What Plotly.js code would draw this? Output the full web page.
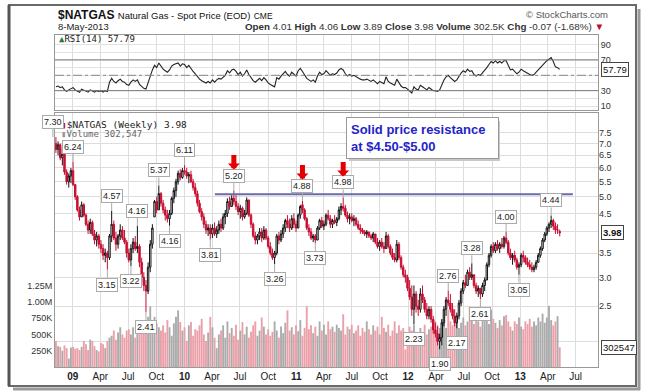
<!DOCTYPE html>
<html><head><meta charset="utf-8">
<script src="https://cdn.plot.ly/plotly-3.0.1.min.js"></script>
<style>html,body{margin:0;padding:0;background:#fff}#chart{width:645px;height:392px}</style>
</head><body><div id="chart"></div>
<script>
// ---------------- DATA (weekly, first week 2008-11-07) ----------------
const startDate = '2008-11-07';
const openP = [
7.00,6.75,6.95,6.40,6.55,5.85,5.50,5.70,5.90,5.40,
5.00,4.60,4.40,4.75,4.45,4.20,4.05,4.25,3.95,3.80,
3.90,3.70,3.60,3.45,3.50,3.40,3.90,4.20,3.85,3.70,
3.90,4.05,3.85,3.75,3.50,3.35,3.60,3.75,3.60,3.65,
3.30,3.00,2.85,2.75,3.20,3.70,4.40,4.85,4.60,5.10,
4.80,4.60,4.45,4.35,4.50,4.95,5.20,5.50,5.80,5.65,
5.90,5.85,5.70,5.75,5.50,5.30,5.10,4.80,4.55,4.40,
4.20,4.05,4.10,3.95,4.10,3.95,4.05,4.20,4.10,4.40,
4.50,4.85,4.70,4.95,4.85,4.70,4.55,4.65,4.40,4.50,
4.90,4.45,4.20,3.90,3.80,3.90,4.00,3.85,4.05,3.85,
3.65,3.50,3.40,3.50,3.90,3.80,3.95,4.10,4.30,4.20,
4.10,4.35,4.20,4.10,4.45,4.75,4.60,4.35,4.10,4.00,
3.85,3.90,3.80,4.10,4.30,4.15,4.20,4.45,4.35,4.20,
4.30,4.25,4.35,4.60,4.70,4.65,4.45,4.35,4.40,4.30,
4.35,4.20,4.10,4.05,4.00,3.95,4.00,3.90,3.85,3.95,
3.75,3.65,3.75,3.65,3.60,3.90,3.65,3.50,3.40,3.35,
3.70,3.40,3.20,3.05,3.00,2.80,2.65,2.45,2.70,2.50,
2.45,2.70,2.60,2.45,2.35,2.45,2.30,2.15,2.10,2.00,
2.05,2.25,2.45,2.60,2.55,2.45,2.35,2.25,2.35,2.55,
2.75,2.90,2.85,3.10,3.00,3.05,2.85,2.75,2.80,2.70,
2.85,2.95,3.25,3.45,3.65,3.55,3.70,3.60,3.70,3.65,
3.85,3.75,3.50,3.40,3.45,3.35,3.20,3.25,3.45,3.40,
3.30,3.25,3.20,3.15,3.20,3.30,3.45,3.60,3.80,3.95,
4.10,4.20,4.30,4.15,4.05,4.01];
const highP = [
7.30,7.10,7.00,6.80,6.60,5.95,5.80,6.00,6.24,5.40,
5.05,4.70,4.85,4.80,4.50,4.30,4.35,4.30,4.05,4.00,
3.95,3.80,3.70,3.60,3.55,3.95,4.57,4.30,4.00,3.95,
4.20,4.15,4.05,3.80,3.60,3.70,3.85,3.90,4.16,3.70,
3.40,3.10,2.95,3.30,3.80,4.20,4.90,5.00,5.37,5.15,
4.90,4.70,4.60,4.60,5.00,5.30,5.60,5.90,5.95,6.00,
6.11,6.00,5.85,5.90,5.60,5.45,5.20,4.90,4.65,4.50,
4.30,4.20,4.20,4.20,4.25,4.15,4.30,4.35,4.50,4.60,
4.95,5.00,5.05,5.20,5.05,4.80,4.75,4.70,4.60,4.98,
4.90,4.50,4.25,4.00,3.95,4.10,4.10,4.15,4.10,3.90,
3.75,3.60,3.55,3.95,4.00,4.05,4.20,4.35,4.45,4.35,
4.45,4.50,4.30,4.50,4.75,4.88,4.65,4.40,4.20,4.10,
3.95,3.95,4.15,4.35,4.40,4.30,4.50,4.60,4.45,4.35,
4.45,4.40,4.70,4.80,4.98,4.75,4.55,4.50,4.50,4.45,
4.40,4.30,4.20,4.10,4.05,4.05,4.00,3.95,4.00,3.95,
3.85,3.80,3.85,3.75,4.00,3.95,3.70,3.60,3.50,3.80,
3.75,3.45,3.25,3.15,3.05,2.95,2.85,2.85,2.75,2.60,
2.80,2.85,2.65,2.55,2.50,2.50,2.35,2.25,2.20,2.10,
2.30,2.50,2.65,2.76,2.70,2.55,2.45,2.40,2.60,2.80,
2.95,3.05,3.15,3.20,3.28,3.05,2.90,2.85,2.80,2.90,
3.00,3.30,3.50,3.70,3.75,3.75,3.80,3.75,3.85,3.90,
4.00,3.80,3.60,3.50,3.55,3.40,3.30,3.50,3.55,3.45,
3.40,3.35,3.30,3.25,3.35,3.50,3.65,3.85,4.00,4.15,
4.25,4.44,4.35,4.25,4.20,4.06];
const lowP = [
6.60,6.50,6.30,6.10,5.75,5.40,5.30,5.45,5.35,4.90,
4.55,4.30,4.40,4.40,4.15,3.95,3.95,3.90,3.70,3.65,
3.60,3.50,3.35,3.30,3.15,3.35,3.75,3.80,3.55,3.60,
3.80,3.80,3.70,3.40,3.30,3.22,3.50,3.55,3.50,3.20,
2.90,2.75,2.41,2.70,3.10,3.60,4.40,4.50,4.60,4.70,
4.50,4.30,4.25,4.16,4.45,4.80,5.00,5.40,5.55,5.60,
5.75,5.60,5.45,5.45,5.20,5.00,4.70,4.50,4.30,4.10,
3.95,3.90,3.81,3.85,3.90,3.85,3.95,4.00,4.05,4.20,
4.40,4.60,4.70,4.75,4.60,4.45,4.35,4.30,4.35,4.45,
4.40,4.10,3.85,3.70,3.70,3.80,3.75,3.80,3.80,3.60,
3.45,3.35,3.26,3.45,3.70,3.75,3.85,4.00,4.10,4.00,
4.05,4.10,4.00,4.10,4.35,4.50,4.30,4.05,3.90,3.80,
3.75,3.73,3.80,4.05,4.10,4.05,4.15,4.30,4.10,4.10,
4.20,4.15,4.30,4.45,4.55,4.40,4.25,4.20,4.25,4.15,
4.15,4.05,3.95,3.95,3.90,3.85,3.85,3.80,3.75,3.70,
3.60,3.55,3.60,3.50,3.60,3.60,3.45,3.35,3.30,3.30,
3.35,3.15,3.00,2.90,2.75,2.60,2.35,2.23,2.40,2.35,
2.40,2.55,2.40,2.30,2.30,2.25,2.10,2.05,1.95,1.90,
1.95,2.20,2.35,2.50,2.40,2.30,2.20,2.17,2.30,2.50,
2.70,2.80,2.85,2.95,2.95,2.80,2.70,2.65,2.61,2.65,
2.75,2.95,3.20,3.40,3.50,3.50,3.55,3.50,3.60,3.60,
3.70,3.45,3.35,3.25,3.30,3.15,3.05,3.20,3.30,3.25,
3.20,3.15,3.10,3.10,3.15,3.30,3.40,3.55,3.75,3.90,
4.00,4.10,4.05,3.95,3.95,3.89];
const closeP = [
6.75,6.95,6.40,6.55,5.85,5.50,5.70,5.90,5.40,5.00,
4.60,4.40,4.75,4.45,4.20,4.05,4.25,3.95,3.80,3.90,
3.70,3.60,3.45,3.50,3.40,3.90,4.20,3.85,3.70,3.90,
4.05,3.85,3.75,3.50,3.35,3.60,3.75,3.60,3.65,3.30,
3.00,2.85,2.75,3.20,3.70,4.10,4.85,4.60,5.10,4.80,
4.60,4.45,4.35,4.50,4.95,5.20,5.50,5.80,5.65,5.90,
5.85,5.70,5.75,5.50,5.30,5.10,4.80,4.55,4.40,4.20,
4.05,4.10,3.95,4.10,3.95,4.05,4.20,4.10,4.40,4.50,
4.85,4.70,4.95,4.85,4.70,4.55,4.65,4.40,4.50,4.90,
4.45,4.20,3.90,3.80,3.90,4.00,3.85,4.05,3.85,3.65,
3.50,3.40,3.50,3.90,3.80,3.95,4.10,4.30,4.20,4.10,
4.35,4.20,4.10,4.45,4.70,4.60,4.35,4.10,4.00,3.85,
3.90,3.80,4.10,4.30,4.15,4.20,4.45,4.35,4.20,4.30,
4.25,4.35,4.60,4.70,4.65,4.45,4.35,4.40,4.30,4.35,
4.20,4.10,4.05,4.00,3.95,4.00,3.90,3.85,3.95,3.75,
3.65,3.75,3.65,3.60,3.90,3.65,3.50,3.40,3.35,3.70,
3.40,3.20,3.05,3.00,2.80,2.65,2.45,2.70,2.50,2.45,
2.70,2.60,2.45,2.35,2.45,2.30,2.15,2.10,2.00,2.05,
2.25,2.45,2.60,2.55,2.45,2.35,2.25,2.35,2.55,2.75,
2.90,2.85,3.10,3.00,3.05,2.85,2.75,2.80,2.70,2.85,
2.95,3.25,3.45,3.65,3.55,3.70,3.60,3.70,3.65,3.85,
3.75,3.50,3.40,3.45,3.35,3.20,3.25,3.45,3.40,3.30,
3.25,3.20,3.15,3.20,3.30,3.45,3.60,3.80,3.95,4.10,
4.20,4.30,4.15,4.05,4.05,3.98];
// weekly volume, thousands
const volumeK = [
400,320,310,250,330,290,130,300,310,280,
290,260,310,400,350,260,420,400,320,260,
240,370,350,290,400,450,480,560,420,530,
610,500,450,560,580,500,610,450,640,560,
690,580,700,770,930,720,770,670,610,560,
640,530,720,610,480,670,770,870,690,560,
610,400,640,690,480,580,560,640,740,500,
400,530,770,610,450,290,500,560,640,450,
700,520,600,480,650,420,560,690,500,620,
450,540,640,700,480,560,760,620,500,580,
480,540,700,560,450,620,520,680,870,560,
610,500,640,550,720,480,600,930,580,640,
520,620,480,700,560,650,500,700,580,620,
540,650,600,560,810,500,620,580,650,520,
560,640,480,600,540,700,580,500,640,560,
620,500,770,600,540,650,480,560,700,520,
640,560,600,270,500,620,560,650,540,480,
600,540,650,500,580,620,560,700,640,600,
740,820,600,880,700,640,780,720,600,680,
760,640,700,930,780,660,840,700,620,760,
800,720,660,880,740,680,600,720,640,780,
800,700,620,560,700,660,760,620,580,700,
660,740,620,700,640,760,700,820,680,760,
940,720,640,700,780,302.547];
const rsi14 = [
35,36,34,35,31,29,31,33,34,31,29,28,32,31,29,28,31,30,28,30,29,30,28,30,29,
41,46,42,40,43,45,42,41,38,37,41,44,42,44,38,35,33,32,40,50,57,63,60,66,62,
58,56,54,57,62,64,65,66,62,65,64,60,63,58,55,52,48,45,43,42,40,42,40,44,41,
44,46,45,48,50,56,53,57,58,55,51,54,49,52,57,51,47,43,41,44,46,43,47,44,40,
38,36,35,47,45,49,52,55,51,49,54,51,49,56,59,55,50,46,44,42,44,41,49,54,51,
52,56,53,50,52,51,53,57,59,57,52,49,51,49,50,48,46,45,44,44,45,43,42,44,41,
39,42,40,39,48,42,40,38,37,45,40,36,34,34,32,30,27,35,32,31,37,35,33,31,34,
32,30,30,29,31,38,44,48,50,47,44,42,44,49,53,56,54,58,55,56,51,49,51,50,53,
56,60,64,68,66,69,66,68,66,69,69,62,57,58,55,52,54,58,56,54,53,51,50,51,54,
57,60,64,67,69,71,73,68,61,60,57.79];

const tickDates = ['2009-01-01','2009-04-01','2009-07-01','2009-10-01','2010-01-01','2010-04-01','2010-07-01','2010-10-01',
  '2011-01-01','2011-04-01','2011-07-01','2011-10-01','2012-01-01','2012-04-01','2012-07-01','2012-10-01','2013-01-01','2013-04-01','2013-07-01'];
const tickText = ['<b>09</b>','Apr','Jul','Oct','<b>10</b>','Apr','Jul','Oct','<b>11</b>','Apr','Jul','Oct',
  '<b>12</b>','Apr','Jul','Oct','<b>13</b>','Apr','Jul'];
const priceTicks = [2.0,2.5,3.0,3.5,4.0,4.5,5.0,5.5,6.0,6.5,7.0,7.5];
const priceTickText = ['','2.5','3.0','3.5','','4.5','5.0','5.5','6.0','6.5','7.0','7.5'];
const volTicks = [250,500,750,1000,1250];
const volTickText = ['250K','500K','750K','1.00M','1.25M'];
const rsiTicks = [10,20,30,40,50,60,70,80,90];
const rsiTickText = ['10','','30','','','','70','','90'];

// labelled swing highs (h) and lows (l): week indexes
const swingIdx  = [0,8,26,24,35,38,42,48,53,60,72,83,102,115,121,134,167,179,183,187,194,198,210,216,231];
const swingSide = ['h','h','h','l','l','h','l','h','l','h','l','h','l','h','l','h','l','l','h','l','h','l','h','l','h'];
const arrowIdx = [83,115,134];
const resistanceLevel = 5.08;
const resistanceFrom = '2010-04-10', resistanceTo = '2013-06-22';
const headerLine2 = '<b>Open</b> 4.01 <b>High</b> 4.06 <b>Low</b> 3.89 <b>Close</b> 3.98 <b>Volume</b> 302.5K <b>Chg</b> -0.07 (-1.68%) <span style="color:#c0102a">▼</span>';

// ---------------- BUILD ----------------
const N = closeP.length;
const t0 = Date.UTC(2008,10,7);
const dates = [];
for (let i=0;i<N;i++) dates.push(new Date(t0 + i*7*864e5).toISOString().slice(0,10));

const L=55, R=598, T=35, B=367;
const px = X => (X-L)/(R-L);
const py = Y => (B-Y)/(B-T);

const UP='#111111', DN='#c80f32';
const volColors = closeP.map((c,i)=> c>=openP[i] ? '#ababab' : '#eb9fa8');

const traces = [
  {type:'bar', x:dates, y:volumeK, xaxis:'x', yaxis:'y', marker:{color:volColors, line:{width:0}}, hoverinfo:'skip'},
  {type:'candlestick', x:dates, open:openP, high:highP, low:lowP, close:closeP, xaxis:'x', yaxis:'y2',
   increasing:{line:{color:UP,width:1}, fillcolor:'#ffffff'},
   decreasing:{line:{color:DN,width:1}, fillcolor:DN}, whiskerwidth:0, hoverinfo:'skip'},
  {type:'scatter', mode:'lines', x:[resistanceFrom,resistanceTo], y:[resistanceLevel,resistanceLevel], xaxis:'x', yaxis:'y2',
   line:{color:'#6a6aae', width:2}, hoverinfo:'skip'},
  {type:'scatter', mode:'lines', x:dates, y:rsi14, xaxis:'x2', yaxis:'y3', line:{color:'#222', width:1.1}, hoverinfo:'skip'}
];

const ff = 'Liberation Sans, Arial, sans-serif';
const ann = [];
// header
ann.push({xref:'paper',yref:'paper',x:px(56),y:py(15),xanchor:'left',yanchor:'middle',showarrow:false,
  text:'<b>$NATGAS</b> <span style="font-size:9.5px">Natural Gas - Spot Price (EOD)</span> <span style="font-size:8.5px">CME</span>',
  font:{family:ff,size:12,color:'#111'}});
ann.push({xref:'paper',yref:'paper',x:px(610),y:py(15),xanchor:'right',yanchor:'middle',showarrow:false,
  text:'© StockCharts.com',font:{family:ff,size:9.5,color:'#555'}});
ann.push({xref:'paper',yref:'paper',x:px(56),y:py(27),xanchor:'left',yanchor:'middle',showarrow:false,
  text:'8-May-2013',font:{family:ff,size:9.5,color:'#222'}});
ann.push({xref:'paper',yref:'paper',x:px(606),y:py(27),xanchor:'right',yanchor:'middle',showarrow:false,
  text:headerLine2,font:{family:ff,size:9.8,color:'#333'}});
// legends
const mono = 'DejaVu Sans Mono, monospace';
ann.push({xref:'paper',yref:'paper',x:px(57),y:py(39.5),xanchor:'left',yanchor:'middle',showarrow:false,
  text:'<span style="color:#2f7a2f">▲</span>RSI(14) '+rsi14[N-1].toFixed(2),font:{family:mono,size:9,color:'#222'}});
ann.push({xref:'paper',yref:'paper',x:px(59),y:py(124.5),xanchor:'left',yanchor:'middle',showarrow:false,
  text:'<span style="color:#c4102e">▮</span>$NATGAS (Weekly) '+closeP[N-1].toFixed(2),font:{family:mono,size:9.5,color:'#222'}});
ann.push({xref:'paper',yref:'paper',x:px(59),y:py(134),xanchor:'left',yanchor:'middle',showarrow:false,
  text:'<span style="color:#999">▮</span>Volume '+Math.round(volumeK[N-1]*1000).toLocaleString('en-US'),font:{family:mono,size:9,color:'#666'}});
// right-side value boxes
ann.push({xref:'paper',yref:'y3',x:1.005,y:rsi14[N-1],xanchor:'left',yanchor:'middle',showarrow:false,
  text:rsi14[N-1].toFixed(2),font:{family:ff,size:9.5,color:'#111'},bgcolor:'#fff',bordercolor:'#444',borderwidth:1,borderpad:1});
ann.push({xref:'paper',yref:'y2',x:1.005,y:Math.log10(closeP[N-1]),xanchor:'left',yanchor:'middle',showarrow:false,
  text:'<b>'+closeP[N-1].toFixed(2)+'</b>',font:{family:ff,size:9.5,color:'#111'},bgcolor:'#fff',bordercolor:'#444',borderwidth:1,borderpad:1});
ann.push({xref:'paper',yref:'y',x:1.005,y:volumeK[N-1],xanchor:'left',yanchor:'middle',showarrow:false,
  text:String(Math.round(volumeK[N-1]*1000)),font:{family:ff,size:9.5,color:'#111'},bgcolor:'#fff',bordercolor:'#444',borderwidth:1,borderpad:1});
// swing labels
swingIdx.forEach((i,k)=>{
  const hi = swingSide[k]==='h';
  const v = hi ? highP[i] : lowP[i];
  ann.push({xref:'x',yref:'y2',x:dates[i],y:Math.log10(v),text:v.toFixed(2),showarrow:true,arrowhead:0,arrowwidth:1,
    arrowcolor:'#aaa',ax:0,ay:hi?-8:8,standoff:0,xanchor:'center',yanchor:hi?'bottom':'top',
    xshift: i===0 ? -3 : 0,
    font:{family:ff,size:9,color:'#222'},bgcolor:'#ffffff',bordercolor:'#aaa',borderwidth:1,borderpad:1});
});
// red arrows
arrowIdx.forEach(i=>{
  ann.push({xref:'x',yref:'y2',x:dates[i],y:Math.log10(highP[i]),text:'',showarrow:true,arrowhead:1,arrowsize:0.4,arrowwidth:5,
    arrowcolor:'#e40000',ax:0,ay:-16,yshift:21,standoff:0});
});
// comment box
ann.push({xref:'paper',yref:'paper',x:px(346),y:py(117),xanchor:'left',yanchor:'top',showarrow:false,align:'left',
  text:'Solid price resistance<br>at $4.50-$5.00',font:{family:ff,size:13,color:'#2424c8',weight:'bold'},
  bgcolor:'#ffffff',bordercolor:'#999',borderwidth:1,borderpad:4,width:143});

const shapes = [
  // RSI reference lines
  {type:'line',xref:'paper',yref:'y3',x0:0,x1:1,y0:70,y1:70,line:{color:'#777',width:1}},
  {type:'line',xref:'paper',yref:'y3',x0:0,x1:1,y0:30,y1:30,line:{color:'#777',width:1}},
  {type:'line',xref:'paper',yref:'y3',x0:0,x1:1,y0:50,y1:50,line:{color:'#888',width:1,dash:'dashdot'}},
  // comment box shadow
  {type:'rect',xref:'paper',yref:'paper',x0:px(349),x1:px(500),y0:py(121),y1:py(161),fillcolor:'#c8c8c8',line:{width:0},layer:'above'},
  // outer frame + shadow
  {type:'rect',xref:'paper',yref:'paper',x0:px(9),x1:px(636),y0:py(5),y1:py(386),line:{color:'#6a6a6a',width:2},layer:'above'},
  {type:'line',xref:'paper',yref:'paper',x0:px(639),x1:px(639),y0:py(9),y1:py(390),line:{color:'#9a9a9a',width:3},layer:'above'},
  {type:'line',xref:'paper',yref:'paper',x0:px(13),x1:px(640),y0:py(389),y1:py(389),line:{color:'#9a9a9a',width:3},layer:'above'},
  {type:'line',xref:'paper',yref:'paper',x0:px(9),x1:px(9),y0:py(5),y1:py(386),line:{color:'#555',width:3},layer:'above'}
];

const grid = '#dddddd';
const xr = ['2008-11-04','2013-09-12'];
const layout = {
  width:645, height:392, margin:{l:L, r:645-R, t:T, b:392-B, pad:0},
  paper_bgcolor:'#fff', plot_bgcolor:'#fff', showlegend:false, bargap:0.12, boxgap:0.05,
  font:{family:ff, size:9, color:'#333'},
  xaxis:{type:'date', range:xr, domain:[0,1], anchor:'y', tickvals:tickDates, ticktext:tickText, showgrid:true, gridcolor:grid,
    ticks:'', tickfont:{family:ff,size:10,color:'#222'}, showline:true, mirror:true, linecolor:'#999', linewidth:1,
    rangeslider:{visible:false}, fixedrange:true},
  yaxis:{domain:[0,py(113)], range:[0,3900], side:'left', tickvals:volTicks, ticktext:volTickText, showgrid:false, zeroline:false,
    ticks:'', tickfont:{family:ff,size:9,color:'#333'}, showline:true, mirror:true, linecolor:'#999', linewidth:1, fixedrange:true},
  yaxis2:{overlaying:'y', side:'right', type:'log', range:[Math.log10(1.70), Math.log10(8.5)], tickvals:priceTicks, ticktext:priceTickText,
    showgrid:true, gridcolor:grid, zeroline:false, ticks:'', tickfont:{family:ff,size:9,color:'#333'}, showline:false, fixedrange:true},
  xaxis2:{type:'date', range:xr, domain:[0,1], anchor:'y3', tickvals:tickDates, showticklabels:false, showgrid:true, gridcolor:grid,
    ticks:'', showline:true, mirror:true, linecolor:'#999', linewidth:1, rangeslider:{visible:false}, fixedrange:true},
  yaxis3:{domain:[py(110),1], anchor:'x2', side:'right', range:[4.8,102.5], tickvals:rsiTicks, ticktext:rsiTickText, showgrid:true,
    gridcolor:'#e2e2e2', zeroline:false, ticks:'', tickfont:{family:ff,size:9,color:'#333'}, showline:true, mirror:true,
    linecolor:'#999', linewidth:1, fixedrange:true},
  annotations:ann, shapes:shapes
};
const lens = [openP.length,highP.length,lowP.length,closeP.length,volumeK.length,rsi14.length];
if (lens.some(l=>l!==N)) ann.push({xref:'paper',yref:'paper',x:0.5,y:0.5,showarrow:false,text:'LEN MISMATCH '+lens.join(','),font:{size:20,color:'red'}});
Plotly.newPlot('chart', traces, layout, {staticPlot:true, displayModeBar:false});
</script></body></html>
